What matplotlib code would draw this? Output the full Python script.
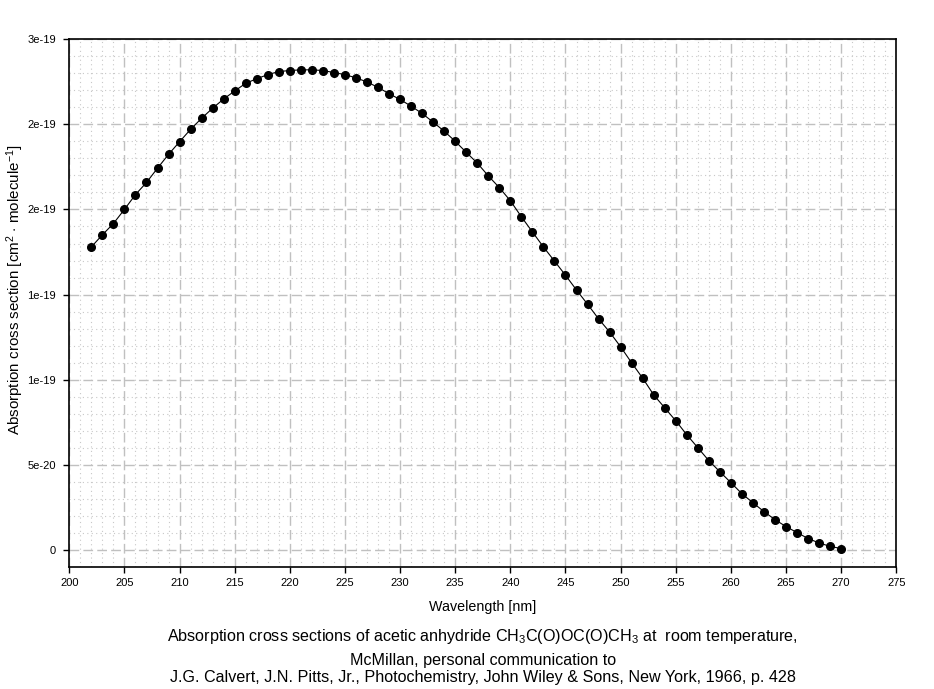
import matplotlib
matplotlib.use('Agg')
import matplotlib.pyplot as plt
from matplotlib.ticker import MultipleLocator

plt.rcParams['font.family'] = ['Liberation Sans', 'DejaVu Sans']
plt.rcParams['mathtext.fontset'] = 'custom'
plt.rcParams['mathtext.rm'] = 'Liberation Sans'
plt.rcParams['mathtext.it'] = 'Liberation Sans:italic'

# wavelength [nm] and cross section [1e-19 cm^2 molecule^-1]
wavelength = list(range(202, 271))
sigma = [
    1.780, 1.851, 1.917, 2.000, 2.087, 2.158, 2.242, 2.323, 2.397, 2.470,   # 202-211
    2.535, 2.594, 2.648, 2.695, 2.740, 2.767, 2.791, 2.809, 2.815, 2.819,   # 212-221
    2.819, 2.815, 2.803, 2.791, 2.772, 2.748, 2.716, 2.679, 2.645, 2.606,   # 222-231
    2.563, 2.512, 2.459, 2.400, 2.335, 2.272, 2.197, 2.128, 2.051, 1.957,   # 232-241
    1.868, 1.780, 1.697, 1.614, 1.527, 1.444, 1.358, 1.281, 1.194, 1.100,   # 242-251
    1.010, 0.912, 0.836, 0.760, 0.678, 0.602, 0.526, 0.461, 0.397, 0.332,   # 252-261
    0.279, 0.227, 0.180, 0.139, 0.104, 0.069, 0.043, 0.023, 0.010,          # 262-270
]
sigma = [s * 1e-19 for s in sigma]

xticks = list(range(200, 276, 5))
yticks = [0, 0.5e-19, 1e-19, 1.5e-19, 2e-19, 2.5e-19, 3e-19]
ytick_labels = ['0', '5e-20', '1e-19', '1e-19', '2e-19', '2e-19', '3e-19']

fig = plt.figure(figsize=(9.34, 6.89), dpi=100)
ax = fig.add_axes([0.0742, 0.1766, 0.8854, 0.7668])

# grid: dashed major, dotted minor
ax.xaxis.set_minor_locator(MultipleLocator(1))
ax.yaxis.set_minor_locator(MultipleLocator(1e-20))
ax.grid(which='major', color='#c0c0c0', linestyle=(0, (7, 3)), linewidth=1.0)
ax.grid(which='minor', color='#c8c8c8', linestyle=(0, (1, 3)), linewidth=0.8)
ax.set_axisbelow(True)

ax.plot(wavelength, sigma, color='black', linewidth=0.8,
        marker='o', markersize=5.5, markerfacecolor='black', markeredgecolor='black')

ax.set_xlim(200, 275)
ax.set_ylim(-1e-20, 3e-19)
ax.set_xticks(xticks)
ax.set_xticklabels([str(v) for v in xticks])
ax.set_yticks(yticks)
ax.set_yticklabels(ytick_labels)
ax.tick_params(which='major', direction='out', length=4.5, width=1, labelsize=8, pad=5)
ax.tick_params(axis='x', which='major', pad=3)
ax.tick_params(which='minor', length=0)
for sp in ax.spines.values():
    sp.set_linewidth(1.2)

ax.set_xlabel('Wavelength [nm]', fontsize=10.3, labelpad=9)
fig.text(0.016, 0.579, r'Absorption cross section [cm$^2$ $\cdot$ molecule$^{-1}$]',
         rotation=90, fontsize=10.9, ha='center', va='center')

fig.text(0.517, 0.076,
         r'Absorption cross sections of acetic anhydride CH$_3$C(O)OC(O)CH$_3$ at  room temperature,',
         fontsize=11.6, ha='center', va='center')
fig.text(0.517, 0.041, 'McMillan, personal communication to',
         fontsize=11.6, ha='center', va='center')
fig.text(0.517, 0.016,
         'J.G. Calvert, J.N. Pitts, Jr., Photochemistry, John Wiley & Sons, New York, 1966, p. 428',
         fontsize=11.6, ha='center', va='center')

fig.savefig('out.png', dpi=100)
